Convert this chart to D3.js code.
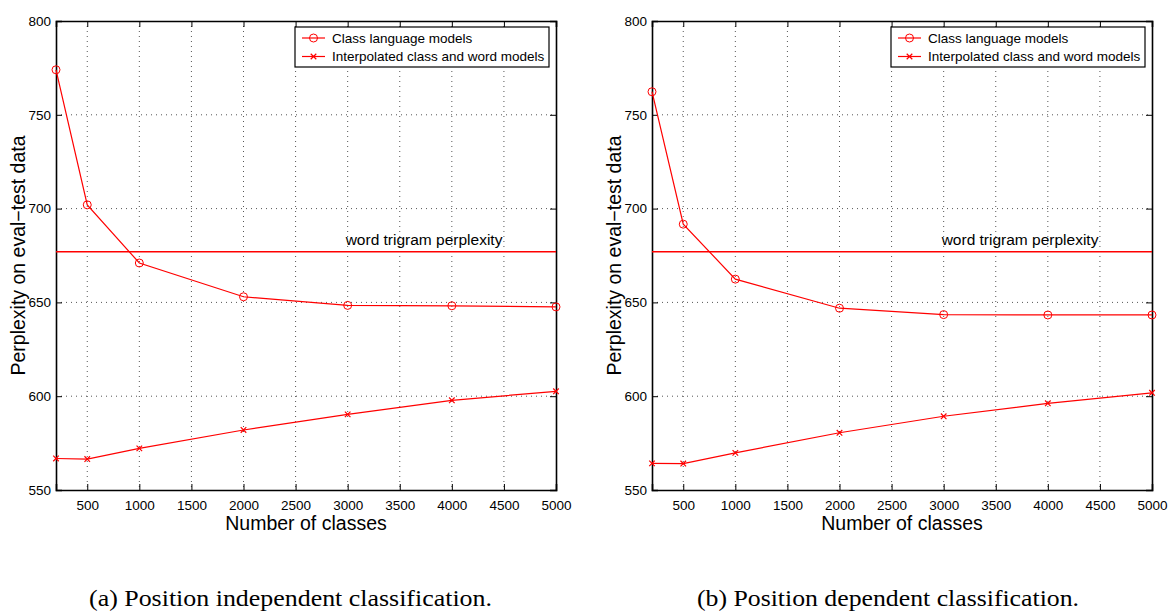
<!DOCTYPE html>
<html><head><meta charset="utf-8">
<script src="https://cdn.jsdelivr.net/npm/d3@7"></script>
<style>html,body{margin:0;padding:0;background:#fff;}svg{display:block;}</style>
</head><body>
<svg id="c" width="1168" height="612"></svg>
<script>
const classes = [200, 500, 1000, 2000, 3000, 4000, 5000];
const xTicks = [500, 1000, 1500, 2000, 2500, 3000, 3500, 4000, 4500, 5000];
const yTicks = [550, 600, 650, 700, 750, 800];
const classLM_a = [774, 702, 671, 653, 648.4, 648.2, 647.6];
const interp_a = [566.8, 566.5, 572.2, 582, 590.3, 597.8, 602.6];
const trigram_a = 677;
const classLM_b = [762.3, 691.7, 662.4, 646.9, 643.5, 643.3, 643.3];
const interp_b = [564.2, 564.1, 569.8, 580.5, 589.3, 596.2, 601.8];
const trigram_b = 677;
const legendLabels = ["Class language models", "Interpolated class and word models"];
const trigramLabel = "word trigram perplexity";
const xTitle = "Number of classes";
const yTitle = "Perplexity on eval\u2212test data";
const captions = ["(a) Position independent classification.", "(b) Position dependent classification."];

const svg = d3.select("#c");
const RED = "#ff0000";
const SANS = "'Liberation Sans', Arial, Helvetica, sans-serif";

function panel(left, right, classLM, interp, trigram, caption, capCenter, capWidth) {
  const top = 21, bottom = 490;
  const x = d3.scaleLinear().domain([200, 5000]).range([left, right]);
  const y = d3.scaleLinear().domain([550, 800]).range([bottom, top]);
  const g = svg.append("g");

  // grid
  g.selectAll(".vg").data(xTicks.filter(t => t < 5000)).enter().append("line")
    .attr("x1", d => x(d)).attr("x2", d => x(d)).attr("y1", top).attr("y2", bottom)
    .attr("stroke", "#555").attr("stroke-width", 1).attr("stroke-dasharray", "1,4");
  g.selectAll(".hg").data(yTicks.filter(t => t > 550 && t < 800)).enter().append("line")
    .attr("x1", left).attr("x2", right).attr("y1", d => y(d)).attr("y2", d => y(d))
    .attr("stroke", "#555").attr("stroke-width", 1).attr("stroke-dasharray", "1,4");

  // axes
  const ax = g.append("g").attr("transform", `translate(0,${bottom})`)
    .call(d3.axisBottom(x).tickValues(xTicks).tickSize(-6).tickPadding(10).tickFormat(d3.format("d")));
  const axT = g.append("g").attr("transform", `translate(0,${top})`)
    .call(d3.axisTop(x).tickValues(xTicks).tickSize(-6).tickFormat(""));
  const ay = g.append("g").attr("transform", `translate(${left},0)`)
    .call(d3.axisLeft(y).tickValues(yTicks).tickSize(-6).tickPadding(5).tickFormat(d3.format("d")));
  const ayR = g.append("g").attr("transform", `translate(${right},0)`)
    .call(d3.axisRight(y).tickValues(yTicks).tickSize(-6).tickFormat(""));
  [ax, axT, ay, ayR].forEach(a => {
    a.select(".domain").attr("stroke", "#000").attr("stroke-width", 1.6);
    a.selectAll(".tick line").attr("stroke", "#000").attr("stroke-width", 1);
    a.selectAll("text").attr("font-family", SANS).attr("font-size", 13.5).attr("fill", "#000");
  });

  // trigram line
  g.append("line").attr("x1", left).attr("x2", right)
    .attr("y1", y(trigram)).attr("y2", y(trigram))
    .attr("stroke", RED).attr("stroke-width", 1.5);
  g.append("text").attr("x", x(3000) - 2).attr("y", y(trigram) - 7)
    .attr("font-family", SANS).attr("font-size", 15.5).attr("fill", "#000").text(trigramLabel);

  const line = d3.line().x((d, i) => x(classes[i])).y(d => y(d));
  g.append("path").datum(classLM).attr("d", line).attr("fill", "none").attr("stroke", RED).attr("stroke-width", 1.2);
  g.append("path").datum(interp).attr("d", line).attr("fill", "none").attr("stroke", RED).attr("stroke-width", 1.2);
  g.selectAll(".circ").data(classLM).enter().append("circle")
    .attr("cx", (d, i) => x(classes[i])).attr("cy", d => y(d)).attr("r", 4)
    .attr("fill", "none").attr("stroke", RED).attr("stroke-width", 1);
  const cross = d3.symbol().type(d3.symbolX).size(22);
  g.selectAll(".crs").data(interp).enter().append("path")
    .attr("transform", (d, i) => `translate(${x(classes[i])},${y(d)})`)
    .attr("d", cross).attr("fill", "none").attr("stroke", RED).attr("stroke-width", 1.2);

  // legend
  const lx = right - 261, ly = top + 6, lw = 254, lh = 40;
  const lg = g.append("g");
  lg.append("rect").attr("x", lx).attr("y", ly).attr("width", lw).attr("height", lh)
    .attr("fill", "#fff").attr("stroke", "#000").attr("stroke-width", 1.2);
  legendLabels.forEach((lab, i) => {
    const yy = ly + 11 + i * 18.5;
    lg.append("line").attr("x1", lx + 7).attr("x2", lx + 30).attr("y1", yy).attr("y2", yy)
      .attr("stroke", RED).attr("stroke-width", 1.2);
    if (i === 0) {
      lg.append("circle").attr("cx", lx + 18.5).attr("cy", yy).attr("r", 4)
        .attr("fill", "none").attr("stroke", RED).attr("stroke-width", 1);
    } else {
      lg.append("path").attr("transform", `translate(${lx + 18.5},${yy})`)
        .attr("d", cross).attr("fill", "none").attr("stroke", RED).attr("stroke-width", 1.2);
    }
    lg.append("text").attr("x", lx + 37).attr("y", yy + 4.5)
      .attr("font-family", SANS).attr("font-size", 13.5).attr("fill", "#000").text(lab);
  });

  // titles
  g.append("text").attr("x", (left + right) / 2).attr("y", 530).attr("text-anchor", "middle")
    .attr("font-family", SANS).attr("font-size", 19.5).attr("fill", "#000").text(xTitle);
  g.append("text").attr("transform", `translate(${left - 31},${(top + bottom) / 2}) rotate(-90)`)
    .attr("text-anchor", "middle")
    .attr("font-family", SANS).attr("font-size", 19.5).attr("fill", "#000").text(yTitle);

  // caption
  svg.append("text").attr("x", capCenter).attr("y", 606).attr("text-anchor", "middle")
    .attr("font-family", "'Liberation Serif', 'Times New Roman', serif").attr("font-size", 23)
    .attr("textLength", capWidth).attr("lengthAdjust", "spacingAndGlyphs")
    .attr("fill", "#000").text(caption);
}

panel(56, 556, classLM_a, interp_a, trigram_a, captions[0], 290.5, 403);
panel(652, 1152, classLM_b, interp_b, trigram_b, captions[1], 888, 382);
</script>
</body></html>
